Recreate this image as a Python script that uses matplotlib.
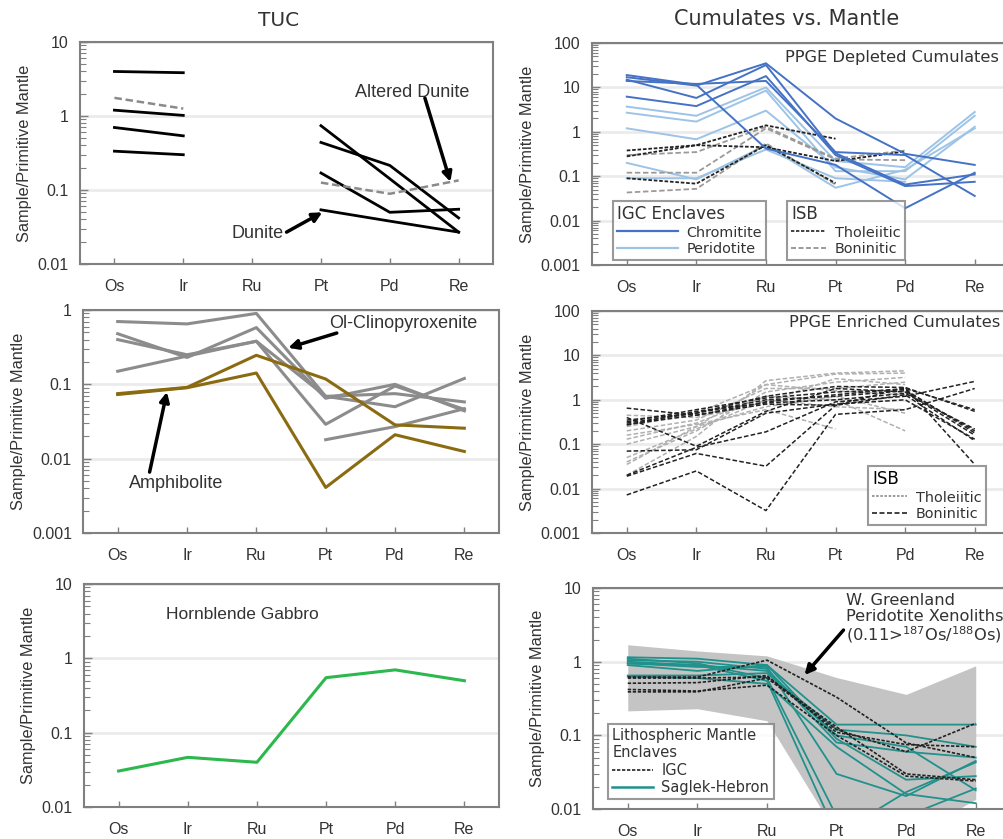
"""
Os-Ir-Ru-Pt-Pd-Re primitive-mantle normalised patterns
TUC (left column) and cumulates vs. mantle (right column)
"""

import numpy as np
import matplotlib
matplotlib.use("Agg")
import matplotlib.pyplot as plt
from matplotlib.lines import Line2D
from matplotlib.ticker import FixedLocator, LogLocator, NullFormatter, FuncFormatter

nan = np.nan

ELEMENTS = ["Os", "Ir", "Ru", "Pt", "Pd", "Re"]

# ---- TUC: dunite / altered dunite ----
tuc_dunite = [
    [4.0, 3.85, nan, nan, nan, nan],
    [1.2, 1.02, nan, nan, nan, nan],
    [0.70, 0.54, nan, nan, nan, nan],
    [0.335, 0.30, nan, nan, nan, nan],
    [nan, nan, nan, 0.74, 0.142, 0.027],
    [nan, nan, nan, 0.44, 0.215, 0.042],
    [nan, nan, nan, 0.17, 0.050, 0.055],
    [nan, nan, nan, 0.054, 0.038, 0.027],
]
tuc_altered = [
    [1.76, 1.26, nan, nan, nan, nan],
    [nan, nan, nan, 0.126, 0.089, 0.135],
]

# ---- TUC: Ol-clinopyroxenite / amphibolite ----
ol_cpx = [
    [0.70, 0.65, 0.90, 0.069, 0.075, 0.058],
    [0.48, 0.23, 0.58, 0.065, 0.100, 0.044],
    [0.40, 0.25, 0.38, 0.029, 0.095, 0.046],
    [0.15, 0.24, 0.38, 0.069, 0.050, 0.120],
    [nan, nan, nan, 0.018, 0.027, 0.047],
]
amphibolite = [
    [0.075, 0.091, 0.246, 0.118, 0.0285, 0.0257],
    [0.073, 0.090, 0.142, 0.0041, 0.021, 0.0125],
]

# ---- TUC: hornblende gabbro ----
hbl_gabbro = [0.0305, 0.0466, 0.040, 0.55, 0.70, 0.50]

# ---- PPGE depleted cumulates ----
chromitite = [
    [17, 11, 35, 2.0, 0.32, 0.18],
    [14, 12, 14, 0.35, 0.30, 0.036],
    [19, 11.5, 0.42, 0.18, 0.019, 0.12],
    [6.2, 3.8, 18, 0.30, 0.060, 0.075],
    [15, 5.8, 32, 0.33, 0.065, 0.11],
]
peridotite = [
    [3.7, 2.3, 10, 0.22, 0.16, 2.8],
    [2.7, 1.7, 8.5, 0.13, 0.13, 2.3],
    [1.2, 0.68, 3.0, 0.16, 0.085, 1.3],
    [0.20, 0.085, 0.50, 0.055, 0.14, 1.2],
    [0.09, 0.09, 0.40, 0.09, 0.075, nan],
]
dep_tholeiitic = [
    [0.38, 0.50, 1.4, 0.70, nan, nan],
    [0.28, 0.50, 0.45, 0.22, 0.36, nan],
    [0.09, 0.068, 0.50, 0.07, nan, nan],
]
dep_boninitic = [
    [0.30, 0.35, 1.3, 0.25, 0.38, nan],
    [0.12, 0.12, 1.2, 0.24, 0.23, nan],
    [0.043, 0.052, 0.55, 0.065, nan, nan],
]

# ---- PPGE enriched cumulates ----
enr_dark = [
    [0.0072, 0.025, 0.0032, 0.47, 0.60, 1.8],
    [0.019, 0.062, 0.032, 0.75, 1.9, 0.035],
    [0.020, 0.085, 0.19, 0.90, 1.2, 2.6],
    [0.070, 0.075, 0.50, 0.80, 1.0, 0.13],
    [0.65, 0.45, 0.90, 1.3, 1.8, 0.60],
    [0.40, 0.09, 0.55, 1.8, 1.5, 0.16],
    [0.30, 0.50, 1.0, 1.2, 1.6, 0.20],
    [0.27, 0.55, 0.85, 1.0, 1.4, 0.22],
    [0.35, 0.50, 1.2, 2.0, 1.9, 0.55],
    [0.28, 0.45, 0.80, 0.75, 1.3, 0.12],
    [0.32, 0.60, 1.1, 1.5, 1.7, 0.18],
]
enr_light = [
    [0.020, 0.15, 2.7, 4.0, 4.5, nan],
    [0.035, 0.25, 2.2, 3.8, 4.0, nan],
    [0.040, 0.20, 1.5, 2.5, 3.2, nan],
    [0.13, 0.30, 1.2, 1.0, 0.20, nan],
    [0.16, 0.28, 0.60, 0.22, nan, nan],
    [0.20, 0.35, 1.8, 1.8, 2.5, nan],
    [0.10, 0.25, 0.70, 1.2, 0.50, nan],
    [0.45, 0.40, 0.90, 3.0, 2.2, nan],
    [0.050, 0.22, 1.0, 0.70, 0.60, nan],
    [0.25, 0.50, 2.2, 1.6, 1.3, nan],
]

# ---- Lithospheric mantle ----
xenolith_upper = [1.7, 1.4, 1.2, 0.61, 0.36, 0.88]
xenolith_lower = [0.215, 0.23, 0.158, 0.0046, 0.004, 0.0135]
igc_mantle = [
    [0.62, 0.62, 1.05, 0.33, 0.079, 0.050],
    [0.51, 0.52, 0.65, 0.11, 0.075, 0.070],
    [0.42, 0.40, 0.48, 0.10, 0.028, 0.024],
    [0.39, 0.39, 0.60, 0.12, 0.060, 0.146],
    [0.60, 0.60, 0.62, 0.13, 0.030, 0.025],
]
saglek_hebron = [
    [1.15, 1.10, 0.90, 0.14, 0.14, 0.14],
    [1.05, 1.00, 0.80, 0.08, 0.060, 0.050],
    [0.95, 0.85, 0.85, 0.030, 0.015, 0.045],
    [0.65, 0.65, 0.70, 0.12, 0.10, 0.070],
    [1.10, 0.95, 0.60, 0.008, 0.008, 0.019],
    [0.90, 0.75, 0.90, 0.09, 0.025, 0.028],
    [1.00, 0.90, 0.75, 0.10, 0.070, 0.018],
    [0.63, 0.60, 0.50, 0.07, 0.016, 0.012],
    [0.95, 0.90, 0.55, 0.0045, 0.017, 0.043],
]

# colours
C_TEXT = "#333333"
C_SPINE = "#808080"
C_GRID = "#ebebeb"
C_CHROM = "#4472C4"
C_PERID = "#9DC3E6"
C_OLCPX = "#8c8c8c"
C_AMPH = "#8B6B12"
C_GREEN = "#2DB84D"
C_TEAL = "#21918C"
C_SHADE = "#c4c4c4"

ARIAL = "Liberation Sans"
DEJAVU = "DejaVu Sans"

plt.rcParams["font.family"] = [ARIAL, "DejaVu Sans"]

X = np.arange(len(ELEMENTS))


def setup_axis(ax, ymin, ymax):
    """Log-scale y, element x axis, light decade grid"""
    ax.set_yscale("log")
    ax.set_ylim(ymin, ymax)
    ax.set_xlim(-0.5, 5.5)
    ax.set_xticks(X)
    ax.set_xticklabels(ELEMENTS)

    decades = 10.0 ** np.arange(np.log10(ymin), np.log10(ymax) + 0.5)
    ax.yaxis.set_major_locator(FixedLocator(decades))
    ax.yaxis.set_minor_locator(LogLocator(base=10, subs=np.arange(2, 10)))
    ax.yaxis.set_minor_formatter(NullFormatter())
    ax.yaxis.set_major_formatter(FuncFormatter(lambda v, _: f"{v:g}"))

    ax.yaxis.grid(True, which="major", color=C_GRID, lw=2)
    ax.set_axisbelow(True)

    ax.tick_params(axis="y", which="major", direction="in", length=6,
                   width=1, color=C_SPINE, labelsize=11.5, labelcolor=C_TEXT, pad=8)
    ax.tick_params(axis="y", which="minor", direction="in", length=4,
                   width=0.8, color=C_SPINE)
    ax.tick_params(axis="x", direction="in", length=4, width=1, color=C_SPINE,
                   labelsize=11.5, labelcolor=C_TEXT, pad=11)
    for sp in ax.spines.values():
        sp.set_color(C_SPINE)
        sp.set_linewidth(1.5)
    ax.set_ylabel("Sample/Primitive Mantle", fontsize=11.8, color=C_TEXT)


def plot_rows(ax, rows, **kw):
    for row in rows:
        ax.plot(X, row, **kw)


def arrow(ax, xy, xytext):
    ax.annotate("", xy=xy, xytext=xytext,
                arrowprops=dict(arrowstyle="-|>", lw=2.5, color="black",
                                mutation_scale=14, shrinkA=0, shrinkB=0))


fig = plt.figure(figsize=(10.04, 8.39), dpi=100)

ax_tl = fig.add_axes([0.0797, 0.6853, 0.4114, 0.2646])
ax_tr = fig.add_axes([0.5896, 0.6841, 0.4159, 0.2646])
ax_ml = fig.add_axes([0.0827, 0.3647, 0.4143, 0.2658])
ax_mr = fig.add_axes([0.5896, 0.3647, 0.4159, 0.2646])
ax_bl = fig.add_axes([0.0837, 0.0381, 0.4133, 0.2658])
ax_br = fig.add_axes([0.5906, 0.0357, 0.4159, 0.2634])

fig.text(0.277, 0.976, "TUC", ha="center", va="center", fontsize=14.5,
         color=C_TEXT, family=DEJAVU)
fig.text(0.783, 0.977, "Cumulates vs. Mantle", ha="center", va="center",
         fontsize=15, color=C_TEXT, family=DEJAVU)

# --- TUC dunite ---
setup_axis(ax_tl, 0.01, 10)
plot_rows(ax_tl, tuc_dunite, color="black", lw=2)
plot_rows(ax_tl, tuc_altered, color="#8a8a8a", lw=1.8, ls=(0, (3, 1.5)))
ax_tl.text(4.32, 2.1, "Altered Dunite", ha="center", va="center",
           fontsize=13, color=C_TEXT)
arrow(ax_tl, (4.88, 0.129), (4.51, 1.75))
ax_tl.text(2.08, 0.026, "Dunite", ha="center", va="center",
           fontsize=13, color=C_TEXT)
arrow(ax_tl, (3.02, 0.050), (2.5, 0.027))

# --- TUC ol-cpx / amphibolite ---
setup_axis(ax_ml, 0.001, 1)
plot_rows(ax_ml, ol_cpx, color=C_OLCPX, lw=2.2)
plot_rows(ax_ml, amphibolite, color=C_AMPH, lw=2.2)
ax_ml.text(4.12, 0.668, "Ol-Clinopyroxenite", ha="center", va="center",
           fontsize=13, color=C_TEXT)
arrow(ax_ml, (2.46, 0.31), (3.16, 0.49))
ax_ml.text(0.84, 0.0047, "Amphibolite", ha="center", va="center",
           fontsize=13, color=C_TEXT)
arrow(ax_ml, (0.71, 0.079), (0.46, 0.0066))

# --- TUC hornblende gabbro ---
setup_axis(ax_bl, 0.01, 10)
ax_bl.plot(X, hbl_gabbro, color=C_GREEN, lw=2.2)
ax_bl.text(0.68, 3.9, "Hornblende Gabbro", ha="left", va="center",
           fontsize=12.5, color=C_TEXT)

# --- PPGE depleted cumulates ---
setup_axis(ax_tr, 0.001, 100)
plot_rows(ax_tr, peridotite, color=C_PERID, lw=1.4)
plot_rows(ax_tr, dep_boninitic, color="#9a9a9a", lw=1.3, ls=(0, (3, 1.5)))
plot_rows(ax_tr, dep_tholeiitic, color="#222222", lw=1.3, ls=(0, (2, 1)))
plot_rows(ax_tr, chromitite, color=C_CHROM, lw=1.4)
ax_tr.text(0.462, 0.937, "PPGE Depleted Cumulates", transform=ax_tr.transAxes,
           ha="left", va="center", fontsize=11.7, color=C_TEXT, family=DEJAVU)

leg_kw = dict(loc="lower left", frameon=True, fancybox=False, borderaxespad=0,
              alignment="left", borderpad=0.3, labelspacing=0.15,
              handletextpad=0.6, prop={"family": DEJAVU, "size": 10.4})
igc_handles = [Line2D([], [], color=C_CHROM, lw=1.6),
               Line2D([], [], color=C_PERID, lw=1.6)]
leg1 = ax_tr.legend(igc_handles, ["Chromitite", "Peridotite"],
                    bbox_to_anchor=(0.05, 0.0225), title="IGC Enclaves",
                    handlelength=4.2, **leg_kw)
isb_handles = [Line2D([], [], color="#222222", lw=1.2, ls=(0, (2, 1))),
               Line2D([], [], color="#8a8a8a", lw=1.2, ls=(0, (3, 1.5)))]
ax_tr.add_artist(leg1)
leg2 = ax_tr.legend(isb_handles, ["Tholeiitic", "Boninitic"],
                    bbox_to_anchor=(0.467, 0.0225), title="ISB",
                    handlelength=2.4, **leg_kw)
for lg in (leg1, leg2):
    lg.get_frame().set_edgecolor(C_SPINE)
    lg.get_frame().set_linewidth(1.5)
    lg.get_title().set_fontsize(12)
    lg.get_title().set_family(DEJAVU)
    lg.get_title().set_color(C_TEXT)
    for t in lg.get_texts():
        t.set_color(C_TEXT)

# --- PPGE enriched cumulates ---
setup_axis(ax_mr, 0.001, 100)
plot_rows(ax_mr, enr_light, color="#b0b0b0", lw=1.1, ls=(0, (3, 1.5)))
plot_rows(ax_mr, enr_dark, color="#222222", lw=1.1, ls=(0, (3, 1.5)))
ax_mr.text(0.472, 0.95, "PPGE Enriched Cumulates", transform=ax_mr.transAxes,
           ha="left", va="center", fontsize=11.7, color=C_TEXT, family=DEJAVU)
leg3 = ax_mr.legend([Line2D([], [], color="#8a8a8a", lw=1.2, ls=(0, (1.5, 1))),
                     Line2D([], [], color="#222222", lw=1.2, ls=(0, (3, 1.5)))],
                    ["Tholeiitic", "Boninitic"], bbox_to_anchor=(0.661, 0.036),
                    title="ISB", handlelength=2.4, **leg_kw)
leg3.get_frame().set_edgecolor(C_SPINE)
leg3.get_frame().set_linewidth(1.5)
leg3.get_title().set_fontsize(12)
leg3.get_title().set_family(DEJAVU)
for t in leg3.get_texts():
    t.set_color(C_TEXT)

# --- Lithospheric mantle ---
setup_axis(ax_br, 0.01, 10)
ax_br.fill_between(X, xenolith_lower, xenolith_upper, color=C_SHADE, lw=0)
plot_rows(ax_br, saglek_hebron, color=C_TEAL, lw=1.3)
plot_rows(ax_br, igc_mantle, color="#222222", lw=1.2, ls=(0, (2, 1)))
ax_br.text(0.606, 0.977,
           "W. Greenland\nPeridotite Xenoliths\n(0.11>$^{187}$Os/$^{188}$Os)",
           transform=ax_br.transAxes, ha="left", va="top", fontsize=11.7,
           color=C_TEXT, family=DEJAVU, linespacing=1.05)
arrow(ax_br, (2.54, 0.66), (3.10, 2.69))
leg4 = ax_br.legend([Line2D([], [], color="#222222", lw=1.2, ls=(0, (2, 1))),
                     Line2D([], [], color=C_TEAL, lw=1.8)],
                    ["IGC", "Saglek-Hebron"], bbox_to_anchor=(0.036, 0.045),
                    title="Lithospheric Mantle\nEnclaves", handlelength=2.8,
                    **leg_kw)
leg4.get_frame().set_edgecolor(C_SPINE)
leg4.get_frame().set_linewidth(1.5)
leg4.get_title().set_fontsize(10.5)
leg4.get_title().set_family(DEJAVU)
leg4.get_title().set_color(C_TEXT)
for t in leg4.get_texts():
    t.set_fontsize(10.5)
    t.set_color(C_TEXT)

fig.savefig("out.png", dpi=100)
